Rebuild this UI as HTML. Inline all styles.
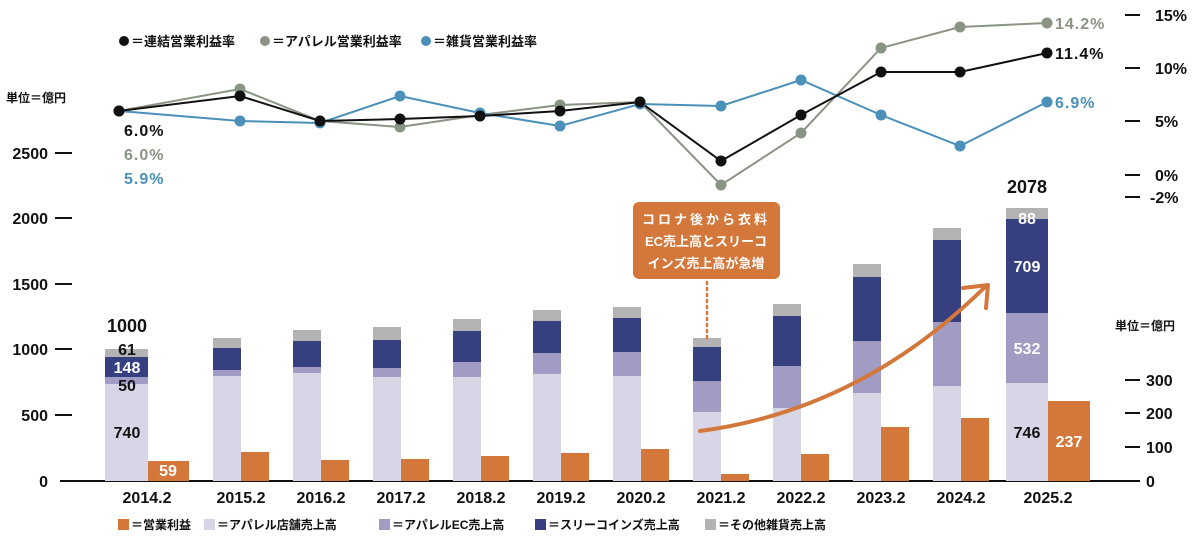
<!DOCTYPE html>
<html><head><meta charset="utf-8"><style>
body{margin:0;background:#fff}
svg{display:block;font-family:"Liberation Sans","Noto Sans CJK JP",sans-serif}
.b{font-weight:bold}
</style></head><body>
<svg width="1200" height="543" viewBox="0 0 1200 543">
<!-- left axis -->
<g font-size="16" font-weight="bold" fill="#111" text-anchor="end">
<text x="48" y="159">2500</text><text x="48" y="224">2000</text><text x="48" y="290">1500</text><text x="48" y="355">1000</text><text x="48" y="421">500</text><text x="48" y="487">0</text>
</g>
<g stroke="#111" stroke-width="2">
<line x1="55" y1="153" x2="72" y2="153"/><line x1="55" y1="218" x2="72" y2="218"/><line x1="55" y1="284" x2="72" y2="284"/><line x1="55" y1="349" x2="72" y2="349"/><line x1="55" y1="415" x2="72" y2="415"/>
<line x1="60" y1="481" x2="1140" y2="481"/>
</g>
<text x="6" y="102" font-size="12" font-weight="bold" fill="#111">単位＝億円</text>
<text x="1115" y="330" font-size="12" font-weight="bold" fill="#111">単位＝億円</text>
<!-- right axes -->
<g stroke="#111" stroke-width="2">
<line x1="1125" y1="380" x2="1140" y2="380"/><line x1="1125" y1="447" x2="1140" y2="447"/><line x1="1125" y1="413" x2="1140" y2="413"/>
<line x1="1125" y1="15" x2="1140" y2="15"/><line x1="1125" y1="68" x2="1140" y2="68"/><line x1="1125" y1="121" x2="1140" y2="121"/><line x1="1125" y1="175" x2="1140" y2="175"/><line x1="1125" y1="197" x2="1140" y2="197"/>
</g>
<g font-size="16" font-weight="bold" fill="#111">
<text x="1146" y="386">300</text><text x="1146" y="419">200</text><text x="1146" y="453">100</text><text x="1146" y="487">0</text>
<text x="1155" y="21">15%</text><text x="1155" y="74">10%</text><text x="1155" y="127">5%</text><text x="1155" y="181">0%</text><text x="1150" y="203">-2%</text>
</g>
<!-- bars: store, EC, 3coins, other -->
<g>
<rect x="105" y="384" width="43" height="97" fill="#d8d6e6"/><rect x="105" y="377" width="43" height="7" fill="#a09cc4"/><rect x="105" y="357" width="43" height="20" fill="#363f7f"/><rect x="105" y="349" width="43" height="8" fill="#b3b3b3"/>
<rect x="148" y="461" width="41" height="20" fill="#d4773a"/>
</g>
<g id="bars"></g>
<!-- callout -->
<rect x="633" y="202" width="147" height="77" rx="6" fill="#d4773a"/>
<g font-size="13" font-weight="bold" fill="#fff" text-anchor="middle">
<text x="706" y="224" letter-spacing="3">コロナ後から衣料</text>
<text x="706" y="246">EC売上高とスリーコ</text>
<text x="706" y="268">インズ売上高が急増</text>
</g>
<line x1="707" y1="282" x2="707" y2="338" stroke="#d4773a" stroke-width="2.5" stroke-dasharray="2,4" stroke-linecap="round"/>
<path d="M700 431 Q860 410 985 287" fill="none" stroke="#d4773a" stroke-width="4" stroke-linecap="round"/>
<path d="M963 288 L988 285 L986 308" fill="none" stroke="#d4773a" stroke-width="4" stroke-linecap="round" stroke-linejoin="round"/>
<!-- bar labels -->
<g font-size="16" font-weight="bold" text-anchor="middle">
<text x="127" y="332" font-size="18" fill="#111">1000</text>
<text x="127" y="355" fill="#111">61</text>
<text x="127" y="373" fill="#fff">148</text>
<text x="127" y="391" fill="#111">50</text>
<text x="127" y="438" fill="#111">740</text>
<text x="168" y="476" fill="#fff">59</text>
<text x="1027" y="193" font-size="18" fill="#111">2078</text>
<text x="1027" y="224" fill="#fff">88</text>
<text x="1027" y="272" fill="#fff">709</text>
<text x="1027" y="354" fill="#fff">532</text>
<text x="1027" y="438" fill="#111">746</text>
<text x="1069" y="447" fill="#fff">237</text>
</g>
<!-- x labels -->
<g font-size="16" font-weight="bold" fill="#111" text-anchor="middle">
<text x="147" y="503">2014.2</text><text x="241" y="503">2015.2</text><text x="321" y="503">2016.2</text><text x="401" y="503">2017.2</text><text x="481" y="503">2018.2</text><text x="561" y="503">2019.2</text><text x="641" y="503">2020.2</text><text x="721" y="503">2021.2</text><text x="801" y="503">2022.2</text><text x="881" y="503">2023.2</text><text x="961" y="503">2024.2</text><text x="1048" y="503">2025.2</text>
</g>
<!-- lines -->
<polyline fill="none" stroke="#8a9485" stroke-width="2" points="119,111 240,89 320,121 400,127 480,115 560,105 640,102 721,185 801,133 881,48 960,27 1047,23"/>
<polyline fill="none" stroke="#4a90b8" stroke-width="2" points="119,111 240,121 320,123 400,96 480,113 560,126 640,104 721,106 801,80 881,115 960,146 1047,102"/>
<polyline fill="none" stroke="#111" stroke-width="2" points="119,111 240,96 320,121 400,119 480,116 560,111 640,102 721,161 801,115 881,72 960,72 1047,53"/>
<g id="dots"></g>
<g font-size="16" font-weight="bold" letter-spacing="1">
<text x="124" y="136" fill="#111">6.0%</text>
<text x="124" y="160" fill="#8a9485">6.0%</text>
<text x="124" y="184" fill="#4a90b8">5.9%</text>
<text x="1055" y="29" fill="#8a9485">14.2%</text>
<text x="1055" y="59" fill="#111">11.4%</text>
<text x="1055" y="108" fill="#4a90b8">6.9%</text>
</g>
<!-- top legend -->
<g font-size="13" font-weight="bold" fill="#111">
<circle cx="124" cy="41" r="5" fill="#111"/><text x="131" y="46">＝連結営業利益率</text>
<circle cx="265" cy="41" r="5" fill="#8a9485"/><text x="272" y="46">＝アパレル営業利益率</text>
<circle cx="426" cy="41" r="5" fill="#4a90b8"/><text x="433" y="46">＝雑貨営業利益率</text>
</g>
<!-- bottom legend -->
<g font-size="12" font-weight="bold" fill="#111">
<rect x="118" y="519" width="11" height="11" fill="#d4773a"/><text x="131" y="529">＝営業利益</text>
<rect x="204" y="519" width="11" height="11" fill="#d8d6e6"/><text x="217" y="529">＝アパレル店舗売上高</text>
<rect x="379" y="519" width="11" height="11" fill="#a09cc4"/><text x="392" y="529">＝アパレルEC売上高</text>
<rect x="535" y="519" width="11" height="11" fill="#363f7f"/><text x="548" y="529">＝スリーコインズ売上高</text>
<rect x="705" y="519" width="11" height="11" fill="#b3b3b3"/><text x="718" y="529">＝その他雑貨売上高</text>
</g>
<script>
var ns="http://www.w3.org/2000/svg";
function r(g,x,y,w,h,c){var e=document.createElementNS(ns,"rect");e.setAttribute("x",x);e.setAttribute("y",y);e.setAttribute("width",w);e.setAttribute("height",h);e.setAttribute("fill",c);g.appendChild(e);}
var g=document.getElementById("bars");
var d=[[213,376,370,348,338,452],[293,373,367,341,330,460],[373,377,368,340,327,459],[453,377,362,331,319,456],[533,374,353,321,310,453],[613,376,352,318,307,449],[693,412,381,347,338,474],[773,408,366,316,304,454],[853,393,341,277,264,427],[933,386,322,240,228,418]];
d.forEach(function(a){var x=a[0];r(g,x,a[1],28,481-a[1],"#d8d6e6");r(g,x,a[2],28,a[1]-a[2],"#a09cc4");r(g,x,a[3],28,a[2]-a[3],"#363f7f");r(g,x,a[4],28,a[3]-a[4],"#b3b3b3");r(g,x+28,a[5],28,481-a[5],"#d4773a");});
r(g,1006,383,42,98,"#d8d6e6");r(g,1006,313,42,70,"#a09cc4");r(g,1006,219,42,94,"#363f7f");r(g,1006,208,42,11,"#b3b3b3");r(g,1048,401,42,80,"#d4773a");
var dg=document.getElementById("dots");
document.querySelectorAll("polyline").forEach(function(p){var c=p.getAttribute("stroke");p.getAttribute("points").split(" ").forEach(function(s){var q=s.split(",");var e=document.createElementNS(ns,"circle");e.setAttribute("cx",q[0]);e.setAttribute("cy",q[1]);e.setAttribute("r",5.5);e.setAttribute("fill",c);dg.appendChild(e);});});
</script>
</svg>
</body></html>
